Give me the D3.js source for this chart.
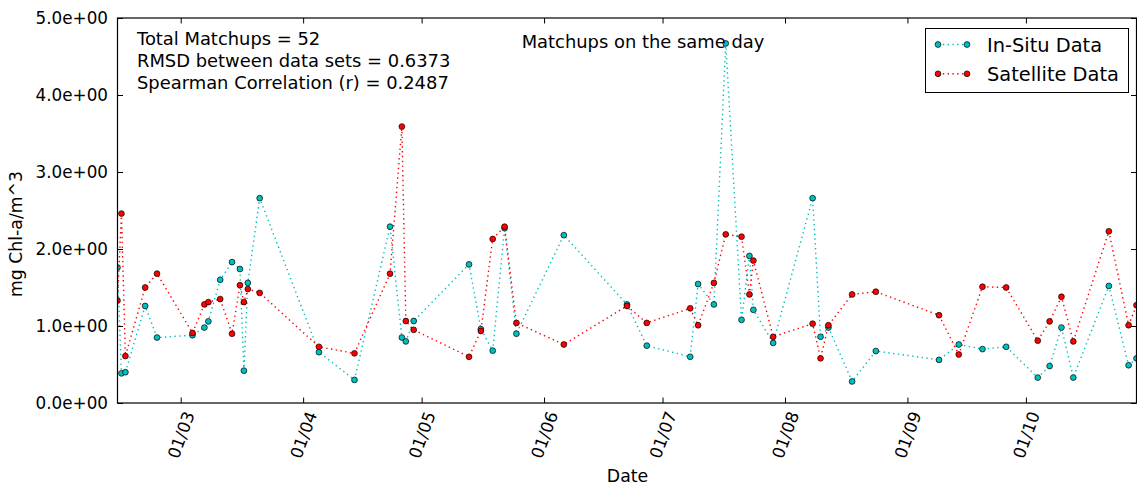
<!DOCTYPE html>
<html>
<head>
<meta charset="utf-8">
<script src="https://cdn.jsdelivr.net/npm/d3@7"></script>
<style>
  body { margin: 0; background: #fff; }
  text { font-family: "DejaVu Sans", sans-serif; fill: #000; }
</style>
</head>
<body>
<div id="chart"></div>
<script>
// matchup dates (one in-situ / satellite pair per date)
const dates = [
    "2017-02-13", "2017-02-14", "2017-02-15", "2017-02-20", "2017-02-23",
    "2017-03-04", "2017-03-07", "2017-03-08", "2017-03-11", "2017-03-14",
    "2017-03-16", "2017-03-17", "2017-03-18", "2017-03-21", "2017-04-05",
    "2017-04-14", "2017-04-23", "2017-04-26", "2017-04-27", "2017-04-29",
    "2017-05-13", "2017-05-16", "2017-05-19", "2017-05-22", "2017-05-25",
    "2017-06-06", "2017-06-22", "2017-06-27", "2017-07-08", "2017-07-10",
    "2017-07-14", "2017-07-17", "2017-07-21", "2017-07-23", "2017-07-24",
    "2017-07-29", "2017-08-08", "2017-08-10", "2017-08-12", "2017-08-18",
    "2017-08-24", "2017-09-09", "2017-09-14", "2017-09-20", "2017-09-26",
    "2017-10-04", "2017-10-07", "2017-10-10", "2017-10-13", "2017-10-22",
    "2017-10-27", "2017-10-29"
];

const inSitu = [
    1.76, 0.385, 0.40, 1.26, 0.85, 0.88, 0.98, 1.06, 1.60, 1.83,
    1.74, 0.42, 1.56, 2.66, 0.66, 0.30, 2.29, 0.85, 0.80, 1.065,
    1.80, 0.96, 0.68, 2.27, 0.90, 2.18, 1.28, 0.745, 0.60, 1.545,
    1.28, 4.67, 1.08, 1.91, 1.21, 0.78, 2.66, 0.86, 0.98, 0.28,
    0.675, 0.56, 0.76, 0.70, 0.73, 0.33, 0.48, 0.98, 0.33, 1.52,
    0.49, 0.58
];

const satellite = [
    1.33, 2.46, 0.61, 1.50, 1.68, 0.91, 1.28, 1.31, 1.35, 0.90,
    1.53, 1.31, 1.48, 1.43, 0.73, 0.645, 1.68, 3.59, 1.065, 0.95,
    0.60, 0.935, 2.13, 2.29, 1.04, 0.76, 1.26, 1.04, 1.23, 1.01,
    1.56, 2.19, 2.16, 1.41, 1.85, 0.86, 1.03, 0.58, 1.01, 1.41,
    1.445, 1.14, 0.63, 1.51, 1.50, 0.81, 1.06, 1.38, 0.80, 2.23,
    1.01, 1.27
];

const yTicks = [0, 1, 2, 3, 4, 5];
const statLines = [
    "Total Matchups = 52",
    "RMSD between data sets = 0.6373",
    "Spearman Correlation (r) = 0.2487"
];
const chartTitle = "Matchups on the same day";
const seriesNames = ["In-Situ Data", "Satellite Data"];
const seriesColors = ["#00bfbf", "#ff0000"];

function createMatchupChart(selector) {
    const fullWidth = 1137, fullHeight = 486;
    const margin = { top: 18, right: 0.5, bottom: 83, left: 117.5 };
    const width = fullWidth - margin.left - margin.right;
    const height = fullHeight - margin.top - margin.bottom;
    const tickFont = "16.8px";
    const labelFont = "17.3px";
    const textFont = "17.9px";
    const legendFont = "19.4px";

    const parse = d3.timeParse("%Y-%m-%d");
    const t = dates.map(parse);

    const svg = d3.select(selector).append('svg')
        .attr('width', fullWidth)
        .attr('height', fullHeight);

    const g = svg.append('g')
        .attr('transform', `translate(${margin.left},${margin.top})`);

    const x = d3.scaleTime()
        .domain(d3.extent(t))
        .range([0, width]);

    const y = d3.scaleLinear()
        .domain([0, 5])
        .range([height, 0]);

    svg.append('defs').append('clipPath')
        .attr('id', 'plot-clip')
        .append('rect')
        .attr('width', width)
        .attr('height', height);

    const plot = g.append('g').attr('clip-path', 'url(#plot-clip)');

    const series = [inSitu, satellite];
    series.forEach((vals, i) => {
        const pts = vals.map((v, k) => [t[k], v]);
        const line = d3.line()
            .x(d => x(d[0]))
            .y(d => y(d[1]));

        plot.append('path')
            .datum(pts)
            .attr('fill', 'none')
            .attr('stroke', seriesColors[i])
            .attr('stroke-width', 1.4)
            .attr('stroke-dasharray', '1.4,3.4')
            .attr('d', line);

        plot.selectAll(`.pt${i}`)
            .data(pts)
            .enter()
            .append('circle')
            .attr('class', `pt${i}`)
            .attr('cx', d => x(d[0]))
            .attr('cy', d => y(d[1]))
            .attr('r', 2.9)
            .attr('fill', seriesColors[i])
            .attr('stroke', '#000')
            .attr('stroke-width', 0.7);
    });

    const fmtY = d => d.toExponential(1).replace(/e([+-])(\d)$/, 'e$10$2');
    const months = d3.timeMonth.every(1).range(x.domain()[0], x.domain()[1]);

    // bottom axis, inward ticks, rotated labels
    const xAxis = g.append('g')
        .attr('transform', `translate(0,${height})`)
        .call(d3.axisBottom(x).tickValues(months).tickSize(-5.5).tickFormat(d3.timeFormat('%d/%m')));
    xAxis.select('.domain').remove();
    xAxis.selectAll('text')
        .attr('y', 0)
        .attr('dy', '0.35em')
        .attr('transform', 'translate(0,32)rotate(-70)')
        .style('text-anchor', 'middle')
        .style('font-size', tickFont);

    const xTop = g.append('g')
        .call(d3.axisTop(x).tickValues(months).tickSize(-5.5).tickFormat(''));
    xTop.select('.domain').remove();

    const yAxis = g.append('g')
        .call(d3.axisLeft(y).tickValues(yTicks).tickSize(-5.5).tickPadding(9.5).tickFormat(fmtY));
    yAxis.select('.domain').remove();
    yAxis.selectAll('text').style('font-size', tickFont);

    const yRight = g.append('g')
        .attr('transform', `translate(${width},0)`)
        .call(d3.axisRight(y).tickValues(yTicks).tickSize(-5.5).tickFormat(''));
    yRight.select('.domain').remove();

    g.selectAll('.tick line').attr('stroke', '#000');
    g.selectAll('.tick text').attr('fill', '#000');

    g.append('rect')
        .attr('width', width)
        .attr('height', height)
        .attr('fill', 'none')
        .attr('stroke', '#000')
        .attr('stroke-width', 1.2);

    // axis labels
    svg.append('text')
        .attr('x', 627.5)
        .attr('y', 482)
        .attr('text-anchor', 'middle')
        .style('font-size', labelFont)
        .text('Date');

    svg.append('text')
        .attr('transform', 'translate(22,234)rotate(-90)')
        .attr('text-anchor', 'middle')
        .style('font-size', labelFont)
        .text('mg Chl-a/m^3');

    // stats block and title text
    svg.selectAll('.stat')
        .data(statLines)
        .enter()
        .append('text')
        .attr('class', 'stat')
        .attr('x', 137)
        .attr('y', (d, i) => 44.5 + i * 22.2)
        .style('font-size', textFont)
        .text(d => d);

    svg.append('text')
        .attr('x', 643)
        .attr('y', 47.5)
        .attr('text-anchor', 'middle')
        .style('font-size', textFont)
        .text(chartTitle);

    // legend
    const legend = svg.append('g');
    legend.append('rect')
        .attr('x', 925.5)
        .attr('y', 28.5)
        .attr('width', 203)
        .attr('height', 64)
        .attr('fill', '#fff')
        .attr('stroke', '#000')
        .attr('stroke-width', 1);

    seriesNames.forEach((name, i) => {
        const ly = 44.5 + i * 29.3;
        legend.append('line')
            .attr('x1', 938).attr('x2', 967)
            .attr('y1', ly).attr('y2', ly)
            .attr('stroke', seriesColors[i])
            .attr('stroke-width', 1.4)
            .attr('stroke-dasharray', '1.4,3.4');
        [938, 967].forEach(cx => {
            legend.append('circle')
                .attr('cx', cx).attr('cy', ly)
                .attr('r', 2.9)
                .attr('fill', seriesColors[i])
                .attr('stroke', '#000')
                .attr('stroke-width', 0.7);
        });
        legend.append('text')
            .attr('x', 987)
            .attr('y', ly + 7)
            .style('font-size', legendFont)
            .text(name);
    });
}

createMatchupChart('#chart');
</script>
</body>
</html>
